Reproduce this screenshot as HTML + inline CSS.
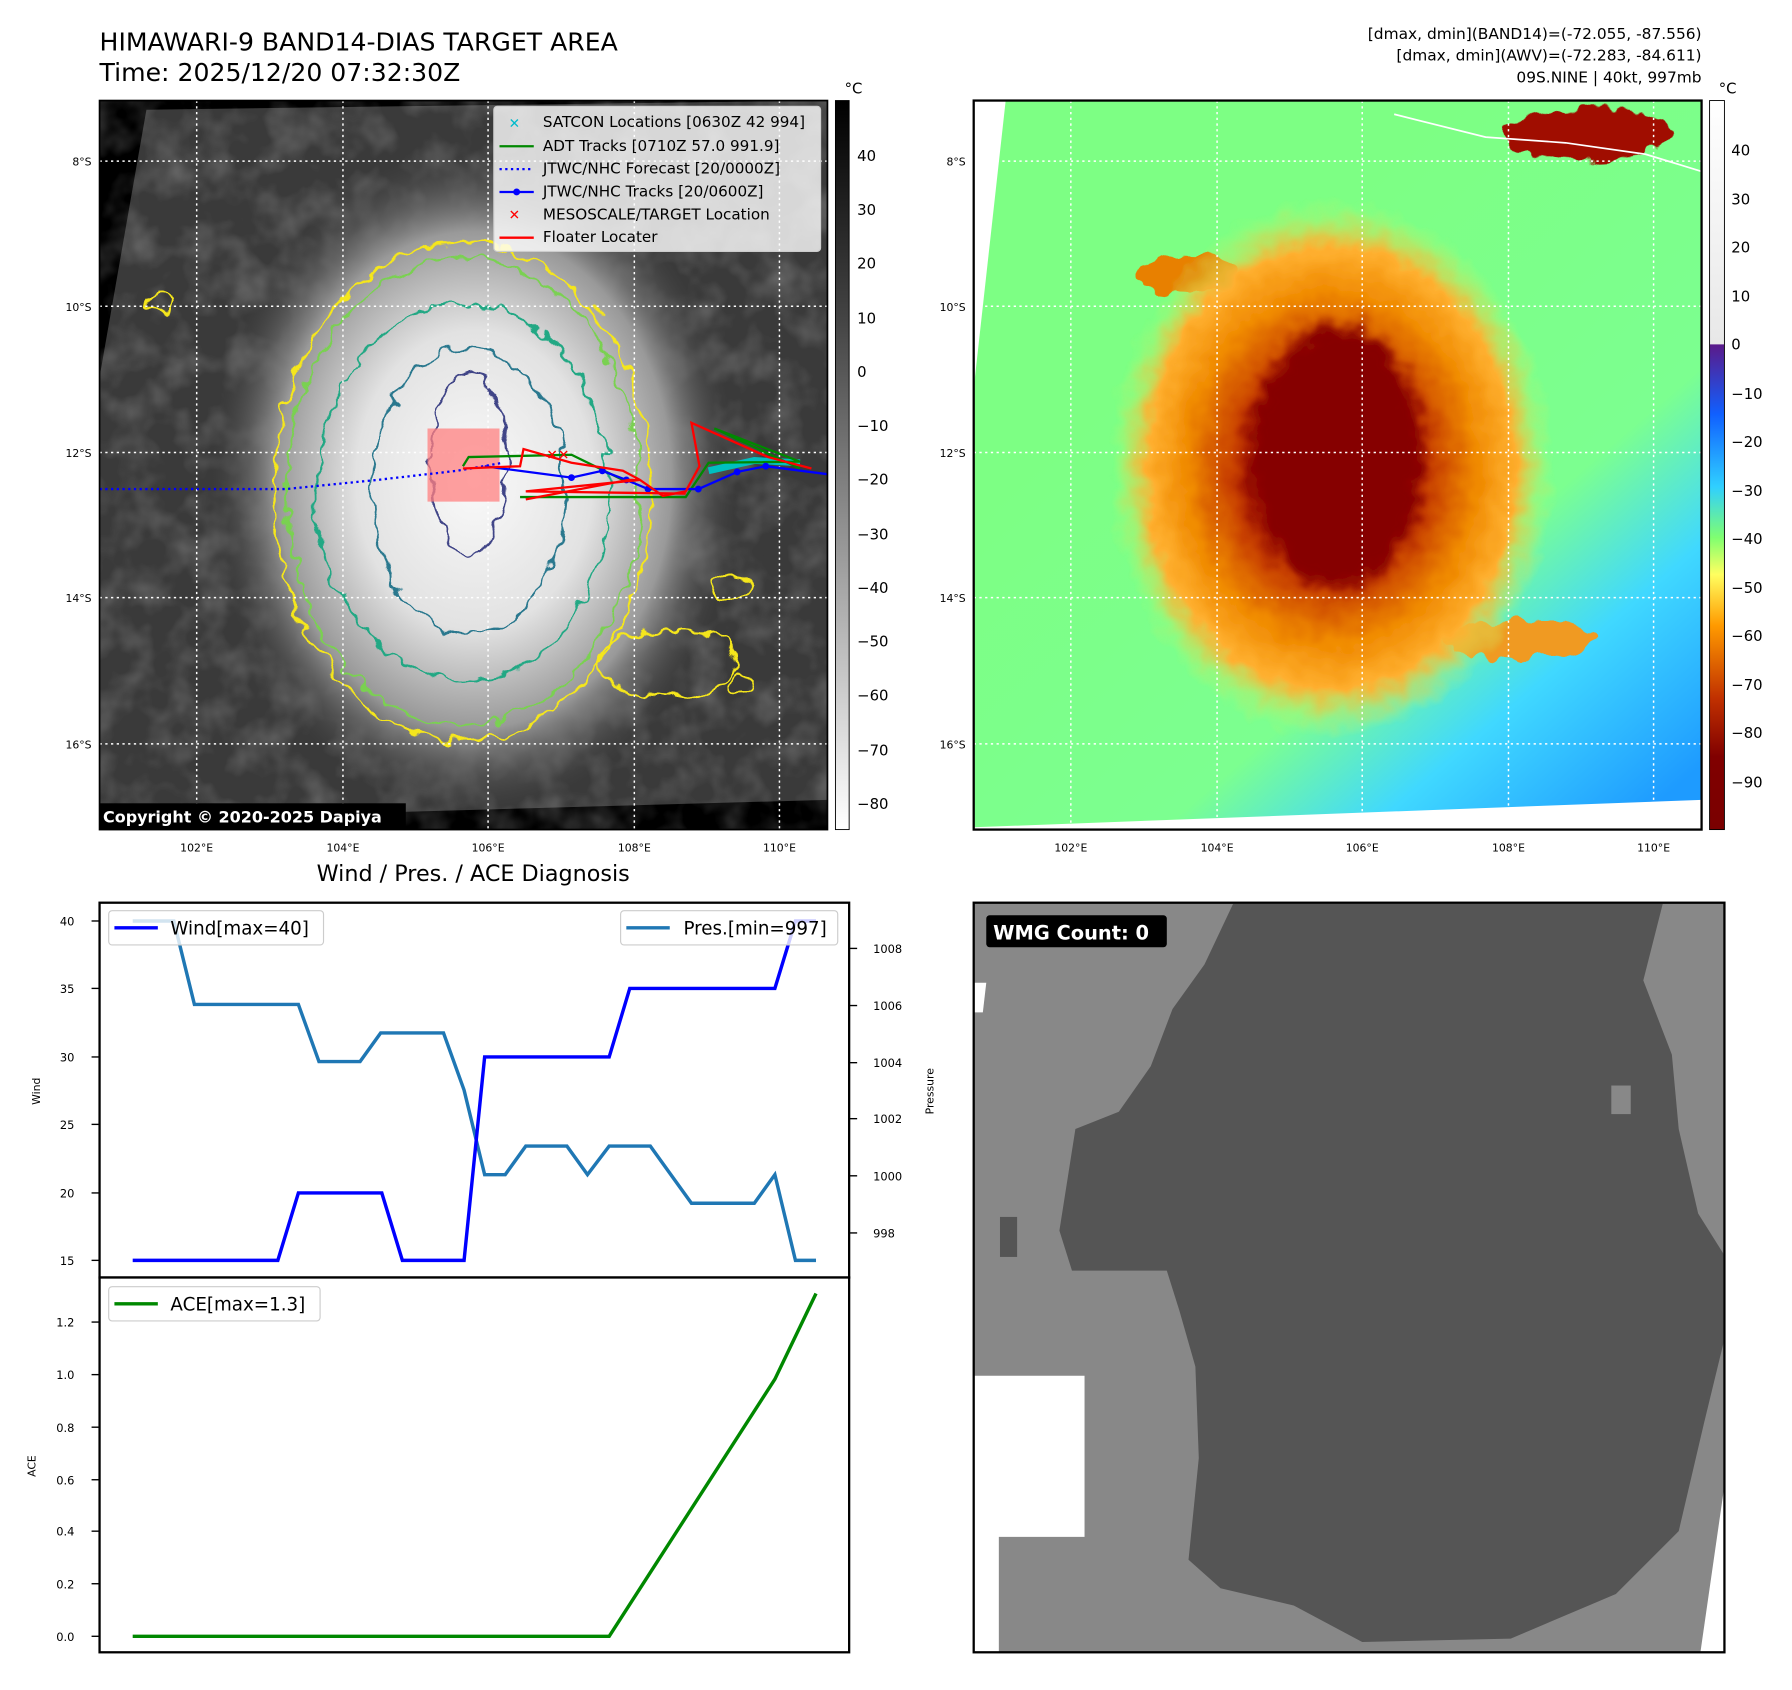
<!DOCTYPE html>
<html><head><meta charset="utf-8"><style>html,body{margin:0;padding:0;background:#fff}svg{display:block}text{font-family:"DejaVu Sans","Liberation Sans",sans-serif}</style></head><body>
<svg width="1792" height="1690" viewBox="0 0 1568 1479" xmlns="http://www.w3.org/2000/svg">
<defs>
<radialGradient id="blob" cx="0.5" cy="0.5" r="0.5"><stop offset="0" stop-color="#fafafa"/><stop offset="0.45" stop-color="#e2e2e2"/><stop offset="0.75" stop-color="#999"/><stop offset="1" stop-color="#4a4a4a" stop-opacity="0"/></radialGradient>
<linearGradient id="cb1" x1="0" y1="0" x2="0" y2="1"><stop offset="0" stop-color="#000"/><stop offset="0.3" stop-color="#444"/><stop offset="1" stop-color="#fff"/></linearGradient>
<linearGradient id="cb2" x1="0" y1="0" x2="0" y2="1"><stop offset="0" stop-color="#fff"/><stop offset="0.334" stop-color="#e8e8e8"/><stop offset="0.335" stop-color="#5a1a8a"/><stop offset="0.43" stop-color="#1060ff"/><stop offset="0.53" stop-color="#30d0ff"/><stop offset="0.6" stop-color="#80ff70"/><stop offset="0.65" stop-color="#ffff60"/><stop offset="0.72" stop-color="#ff9a00"/><stop offset="0.82" stop-color="#c03000"/><stop offset="0.9" stop-color="#800000"/><stop offset="1" stop-color="#7a0000"/></linearGradient>
<linearGradient id="bg2" x1="0.3" y1="0.3" x2="0.9" y2="1"><stop offset="0" stop-color="#7dff84"/><stop offset="0.55" stop-color="#7cff90"/><stop offset="0.75" stop-color="#40d8ff"/><stop offset="1" stop-color="#1e9bff"/></linearGradient>
<radialGradient id="storm" cx="0.5" cy="0.5" r="0.5"><stop offset="0" stop-color="#800000"/><stop offset="0.3" stop-color="#900000"/><stop offset="0.45" stop-color="#c84000"/><stop offset="0.65" stop-color="#f08a00"/><stop offset="0.82" stop-color="#ffb030"/><stop offset="1" stop-color="#c0ff70" stop-opacity="0"/></radialGradient>
<filter id="bl"><feGaussianBlur stdDeviation="6"/></filter>
<filter id="wig" x="-20%" y="-20%" width="140%" height="140%"><feTurbulence type="fractalNoise" baseFrequency="0.06" numOctaves="2" seed="3"/><feDisplacementMap in="SourceGraphic" scale="18" xChannelSelector="R" yChannelSelector="G"/></filter>
<filter id="tex" x="0" y="0" width="100%" height="100%"><feTurbulence type="fractalNoise" baseFrequency="0.03" numOctaves="3" seed="7"/><feColorMatrix type="matrix" values="0 0 0 0 0.6  0 0 0 0 0.6  0 0 0 0 0.6  0 0 0 1.1 -0.45"/></filter>
<clipPath id="c1"><rect x="87" y="88" width="637" height="638"/></clipPath>
<clipPath id="c2"><rect x="852" y="88" width="637" height="638"/></clipPath>
</defs>

<text x="87" y="44" font-size="22">HIMAWARI-9 BAND14-DIAS TARGET AREA</text>
<text x="87" y="71" font-size="22">Time: 2025/12/20 07:32:30Z</text>
<g font-size="13.5" text-anchor="end"><text x="1489" y="34">[dmax, dmin](BAND14)=(-72.055, -87.556)</text><text x="1489" y="53">[dmax, dmin](AWV)=(-72.283, -84.611)</text><text x="1489" y="72">09S.NINE | 40kt, 997mb</text></g>

<!-- MAP 1 -->
<g clip-path="url(#c1)">
<rect x="87" y="88" width="637" height="638" fill="#000"/>
<polygon points="128,96 724,88 724,700 87,718 87,330" fill="#3a3a3a"/>
<rect x="87" y="88" width="637" height="638" filter="url(#tex)" opacity="0.5"/>
<ellipse cx="415" cy="420" rx="230" ry="290" fill="url(#blob)"/>
<g fill="none" stroke-width="2" filter="url(#wig)">
<ellipse cx="405" cy="430" rx="165" ry="218" stroke="#f5e61a"/>
<ellipse cx="405" cy="430" rx="155" ry="205" stroke="#7ad151"/>
<ellipse cx="405" cy="430" rx="128" ry="165" stroke="#22a884"/>
<ellipse cx="410" cy="430" rx="85" ry="125" stroke="#2a788e"/>
<ellipse cx="410" cy="405" rx="33" ry="80" stroke="#414487"/>
<ellipse cx="585" cy="580" rx="60" ry="30" stroke="#f5e61a"/>
<ellipse cx="640" cy="515" rx="18" ry="10" stroke="#f5e61a"/>
<ellipse cx="140" cy="265" rx="10" ry="8" stroke="#f5e61a"/>
<ellipse cx="650" cy="600" rx="10" ry="8" stroke="#f5e61a"/>
</g>
<g stroke="#fff" stroke-width="1.3" stroke-dasharray="2,3">
<line x1="172" y1="88" x2="172" y2="726"/><line x1="300" y1="88" x2="300" y2="726"/><line x1="427" y1="88" x2="427" y2="726"/><line x1="555" y1="88" x2="555" y2="726"/><line x1="682" y1="88" x2="682" y2="726"/>
<line x1="87" y1="141" x2="724" y2="141"/><line x1="87" y1="268" x2="724" y2="268"/><line x1="87" y1="396" x2="724" y2="396"/><line x1="87" y1="523" x2="724" y2="523"/><line x1="87" y1="651" x2="724" y2="651"/>
</g>
<rect x="374" y="375" width="63" height="64" fill="#ff8080" opacity="0.75"/>
<polyline points="87,428 250,428 330,420 400,412 440,405" fill="none" stroke="#00f" stroke-width="2" stroke-dasharray="2,3"/>
<polyline points="620,412 660,403 700,405" fill="none" stroke="#00c0c0" stroke-width="6"/>
<polyline points="455,435 600,435 620,405 700,404 625,375 700,410" fill="none" stroke="#080" stroke-width="2"/>
<polyline points="405,408 410,400 500,398 545,420" fill="none" stroke="#080" stroke-width="2"/>
<polyline points="424,408 500,418 527,412 548,420 567,428 611,428 645,413 670,408 724,415" fill="none" stroke="#00f" stroke-width="2"/>
<g fill="#00f"><circle cx="500" cy="418" r="3"/><circle cx="527" cy="412" r="3"/><circle cx="548" cy="420" r="3"/><circle cx="567" cy="428" r="3"/><circle cx="611" cy="428" r="3"/><circle cx="645" cy="413" r="3"/><circle cx="670" cy="408" r="3"/></g>
<polyline points="405,410 455,408 458,393 500,405 545,412 560,420 580,434 600,430 612,408 605,370 672,400 710,410" fill="none" stroke="#f00" stroke-width="2"/>
<polyline points="460,437 550,420 560,420 460,430 600,432" fill="none" stroke="#f00" stroke-width="2"/>
<text x="478" y="402" fill="#f00" font-size="12" font-weight="bold">✕✕</text>
</g>
<rect x="87" y="88" width="637" height="638" fill="none" stroke="#000" stroke-width="1.5"/>
<rect x="87" y="703" width="268" height="23" fill="#000"/>
<text x="90" y="720" fill="#fff" font-size="14" font-weight="bold">Copyright © 2020-2025 Dapiya</text>
<!-- legend -->
<rect x="432" y="93" width="286" height="127" rx="3" fill="#fff" fill-opacity="0.8" stroke="#ccc"/>
<g font-size="13.3"><text x="475" y="111">SATCON Locations [0630Z 42 994]</text><text x="475" y="132">ADT Tracks [0710Z 57.0 991.9]</text><text x="475" y="152">JTWC/NHC Forecast [20/0000Z]</text><text x="475" y="172">JTWC/NHC Tracks [20/0600Z]</text><text x="475" y="192">MESOSCALE/TARGET Location</text><text x="475" y="212">Floater Locater</text></g>
<text x="445" y="112" fill="#0bc" font-size="12" font-weight="bold">✕</text>
<line x1="437" y1="128" x2="467" y2="128" stroke="#080" stroke-width="2"/>
<line x1="437" y1="148" x2="467" y2="148" stroke="#00f" stroke-width="2" stroke-dasharray="2,3"/>
<line x1="437" y1="168" x2="467" y2="168" stroke="#00f" stroke-width="2"/><circle cx="452" cy="168" r="3" fill="#00f"/>
<text x="445" y="192" fill="#f00" font-size="12" font-weight="bold">✕</text>
<line x1="437" y1="208" x2="467" y2="208" stroke="#f00" stroke-width="2"/>
<!-- colorbar1 -->
<rect x="731" y="88" width="12" height="638" fill="url(#cb1)" stroke="#000" stroke-width="0.8"/>
<text x="739" y="82" font-size="13">°C</text>
<g font-size="13"><text x="750" y="141">40</text><text x="750" y="188">30</text><text x="750" y="235">20</text><text x="750" y="283">10</text><text x="750" y="330">0</text><text x="750" y="377">−10</text><text x="750" y="424">−20</text><text x="750" y="472">−30</text><text x="750" y="519">−40</text><text x="750" y="566">−50</text><text x="750" y="613">−60</text><text x="750" y="661">−70</text><text x="750" y="708">−80</text></g>
<g font-size="9.5" text-anchor="end"><text x="80" y="145">8°S</text><text x="80" y="272">10°S</text><text x="80" y="400">12°S</text><text x="80" y="527">14°S</text><text x="80" y="655">16°S</text>
<text x="845" y="145">8°S</text><text x="845" y="272">10°S</text><text x="845" y="400">12°S</text><text x="845" y="527">14°S</text><text x="845" y="655">16°S</text></g>
<g font-size="9.5" text-anchor="middle"><text x="172" y="745">102°E</text><text x="300" y="745">104°E</text><text x="427" y="745">106°E</text><text x="555" y="745">108°E</text><text x="682" y="745">110°E</text>
<text x="937" y="745">102°E</text><text x="1065" y="745">104°E</text><text x="1192" y="745">106°E</text><text x="1320" y="745">108°E</text><text x="1447" y="745">110°E</text></g>

<!-- MAP 2 -->
<g clip-path="url(#c2)">
<rect x="852" y="88" width="637" height="638" fill="#fff"/>
<polygon points="880,88 1489,88 1489,700 852,724 852,340" fill="url(#bg2)"/>
<g filter="url(#wig)">
<ellipse cx="1040" cy="240" rx="45" ry="18" fill="#e88000"/>
<ellipse cx="1330" cy="560" rx="65" ry="18" fill="#f09a20"/>
<ellipse cx="1165" cy="410" rx="195" ry="235" fill="url(#storm)"/>
<ellipse cx="1170" cy="400" rx="75" ry="115" fill="#860000" filter="url(#bl)"/>
<ellipse cx="1390" cy="118" rx="75" ry="22" fill="#a01000"/>
</g>
<polyline points="1220,100 1300,120 1370,125 1440,135 1489,150" fill="none" stroke="#fff" stroke-width="1.5"/>
<g stroke="#fff" stroke-width="1.3" stroke-dasharray="2,3">
<line x1="937" y1="88" x2="937" y2="726"/><line x1="1065" y1="88" x2="1065" y2="726"/><line x1="1192" y1="88" x2="1192" y2="726"/><line x1="1320" y1="88" x2="1320" y2="726"/><line x1="1447" y1="88" x2="1447" y2="726"/>
<line x1="852" y1="141" x2="1489" y2="141"/><line x1="852" y1="268" x2="1489" y2="268"/><line x1="852" y1="396" x2="1489" y2="396"/><line x1="852" y1="523" x2="1489" y2="523"/><line x1="852" y1="651" x2="1489" y2="651"/>
</g>
</g>
<rect x="852" y="88" width="637" height="638" fill="none" stroke="#000" stroke-width="2"/>
<rect x="1496" y="88" width="13" height="638" fill="url(#cb2)" stroke="#000" stroke-width="0.8"/>
<text x="1504" y="82" font-size="13">°C</text>
<g font-size="13"><text x="1515" y="136">40</text><text x="1515" y="179">30</text><text x="1515" y="221">20</text><text x="1515" y="264">10</text><text x="1515" y="306">0</text><text x="1515" y="349">−10</text><text x="1515" y="391">−20</text><text x="1515" y="434">−30</text><text x="1515" y="476">−40</text><text x="1515" y="519">−50</text><text x="1515" y="561">−60</text><text x="1515" y="604">−70</text><text x="1515" y="646">−80</text><text x="1515" y="689">−90</text></g>

<!-- WIND/PRES -->
<text x="414" y="771" font-size="19.5" text-anchor="middle">Wind / Pres. / ACE Diagnosis</text>
<rect x="87" y="790" width="656" height="328" fill="#fff" stroke="#000" stroke-width="2"/>
<rect x="87" y="1118" width="656" height="328" fill="#fff" stroke="#000" stroke-width="2"/>
<polyline points="116,806 152,806 170,879 261,879 279,929 315,929 333,904 388,904 406,954 424,1028 442,1028 460,1003 496,1003 514,1028 533,1003 569,1003 605,1053 660,1053 678,1028 696,1103 714,1103" fill="none" stroke="#1f77b4" stroke-width="3"/>
<polyline points="116,1103 243,1103 261,1044 334,1044 352,1103 406,1103 424,925 533,925 551,865 678,865 696,806 714,806" fill="none" stroke="#00f" stroke-width="3"/>
<g font-size="10" text-anchor="end"><text x="65" y="810">40</text><text x="65" y="869">35</text><text x="65" y="929">30</text><text x="65" y="988">25</text><text x="65" y="1048">20</text><text x="65" y="1107">15</text></g>
<g stroke="#000" stroke-width="1.2"><line x1="80" y1="806" x2="87" y2="806"/><line x1="80" y1="865" x2="87" y2="865"/><line x1="80" y1="925" x2="87" y2="925"/><line x1="80" y1="984" x2="87" y2="984"/><line x1="80" y1="1044" x2="87" y2="1044"/><line x1="80" y1="1103" x2="87" y2="1103"/>
<line x1="743" y1="830" x2="750" y2="830"/><line x1="743" y1="880" x2="750" y2="880"/><line x1="743" y1="930" x2="750" y2="930"/><line x1="743" y1="979" x2="750" y2="979"/><line x1="743" y1="1029" x2="750" y2="1029"/><line x1="743" y1="1079" x2="750" y2="1079"/></g>
<g font-size="10"><text x="764" y="834">1008</text><text x="764" y="884">1006</text><text x="764" y="934">1004</text><text x="764" y="983">1002</text><text x="764" y="1033">1000</text><text x="764" y="1083">998</text></g>
<text transform="translate(35,955) rotate(-90)" font-size="9.5" text-anchor="middle">Wind</text>
<text transform="translate(817,955) rotate(-90)" font-size="9.5" text-anchor="middle">Pressure</text>
<rect x="95" y="797" width="188" height="30" rx="3" fill="#fff" fill-opacity="0.8" stroke="#ccc"/>
<line x1="100" y1="812" x2="138" y2="812" stroke="#00f" stroke-width="3"/>
<text x="149" y="818" font-size="16">Wind[max=40]</text>
<rect x="543" y="797" width="190" height="30" rx="3" fill="#fff" fill-opacity="0.8" stroke="#ccc"/>
<line x1="548" y1="812" x2="586" y2="812" stroke="#1f77b4" stroke-width="3"/>
<text x="598" y="818" font-size="16">Pres.[min=997]</text>
<!-- ACE -->
<polyline points="116,1432 533,1432 678,1207 714,1132" fill="none" stroke="#080" stroke-width="3"/>
<g font-size="10" text-anchor="end"><text x="65" y="1161">1.2</text><text x="65" y="1207">1.0</text><text x="65" y="1253">0.8</text><text x="65" y="1299">0.6</text><text x="65" y="1344">0.4</text><text x="65" y="1390">0.2</text><text x="65" y="1436">0.0</text></g>
<g stroke="#000" stroke-width="1.2"><line x1="80" y1="1157" x2="87" y2="1157"/><line x1="80" y1="1203" x2="87" y2="1203"/><line x1="80" y1="1249" x2="87" y2="1249"/><line x1="80" y1="1295" x2="87" y2="1295"/><line x1="80" y1="1340" x2="87" y2="1340"/><line x1="80" y1="1386" x2="87" y2="1386"/><line x1="80" y1="1432" x2="87" y2="1432"/></g>
<text transform="translate(31,1283) rotate(-90)" font-size="9.5" text-anchor="middle">ACE</text>
<rect x="95" y="1126" width="185" height="30" rx="3" fill="#fff" fill-opacity="0.8" stroke="#ccc"/>
<line x1="100" y1="1141" x2="138" y2="1141" stroke="#080" stroke-width="3"/>
<text x="149" y="1147" font-size="16">ACE[max=1.3]</text>

<!-- WMG -->
<rect x="852" y="790" width="657" height="656" fill="#888"/>
<polygon points="852,1204 949,1204 949,1345 874,1345 874,1446 852,1446" fill="#fff"/>
<polygon points="852,860 863,860 860,886 852,886" fill="#fff"/>
<polygon points="1509,1300 1509,1446 1488,1446 1490,1432" fill="#fff"/>
<polygon points="1079,791 1455,791 1438,858 1463,923 1469,988 1486,1062 1508,1097 1508,1176 1491,1246 1469,1340 1414,1395 1322,1434 1192,1437 1132,1405 1068,1390 1040,1365 1049,1276 1046,1196 1032,1147 1021,1112 971,1112 938,1112 927,1077 941,988 979,973 1007,933 1026,883 1054,844" fill="#555"/>
<rect x="875" y="1065" width="15" height="35" fill="#555"/>
<rect x="1410" y="950" width="17" height="25" fill="#888"/>
<rect x="852" y="790" width="657" height="656" fill="none" stroke="#000" stroke-width="2"/>
<rect x="863" y="801" width="158" height="28" rx="3" fill="#000"/>
<text x="869" y="822" fill="#fff" font-size="17" font-weight="bold">WMG Count: 0</text>
</svg>
</body></html>
